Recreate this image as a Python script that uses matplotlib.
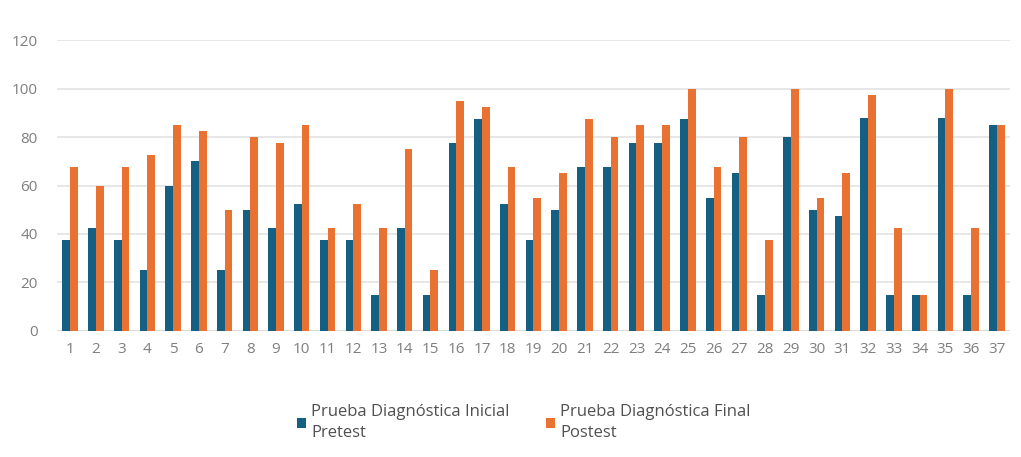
import numpy as np
import matplotlib.pyplot as plt

plt.rcParams['font.family'] = ['Open Sans', 'DejaVu Sans']

estudiantes = [str(i) for i in range(1, 38)]
pretest = [37.5, 42.5, 37.5, 25, 60, 70, 25, 50, 42.5, 52.5,
           37.5, 37.5, 15, 42.5, 15, 77.5, 87.5, 52.5, 37.5, 50,
           67.5, 67.5, 77.5, 77.5, 87.5, 55, 65, 15, 80, 50,
           47.5, 88, 15, 15, 88, 15, 85]
postest = [67.5, 60, 67.5, 72.5, 85, 82.5, 50, 80, 77.5, 85,
           42.5, 52.5, 42.5, 75, 25, 95, 92.5, 67.5, 55, 65,
           87.5, 80, 85, 85, 100, 67.5, 80, 37.5, 100, 55,
           65, 97.5, 42.5, 15, 100, 42.5, 85]

x = np.arange(len(estudiantes))
w = 0.3

fig = plt.figure(figsize=(10.21, 4.57), dpi=100)
ax = fig.add_axes([0.056, 0.276, 0.933, 0.636])

ax.bar(x - w / 2, pretest, w, color='#156082',
       label='Prueba Diagnóstica Inicial\nPretest', zorder=3)
ax.bar(x + w / 2, postest, w, color='#E97132',
       label='Prueba Diagnóstica Final\nPostest', zorder=3)

ax.set_ylim(0, 120)
ax.set_yticks(range(0, 121, 20))
ax.set_xlim(-0.5, len(estudiantes) - 0.5)
ax.set_xticks(x)
ax.set_xticklabels(estudiantes)
ax.grid(axis='y', color='#e3e3e3', linewidth=1.2, zorder=0)
for s in ax.spines.values():
    s.set_visible(False)
ax.axhline(0, color='#d9d9d9', linewidth=1.2, zorder=2)
ax.tick_params(axis='both', length=0, colors='#7f7f7f', labelsize=11)
ax.tick_params(axis='y', pad=14)
ax.tick_params(axis='x', pad=8)

leg = ax.legend(loc='upper center', bbox_to_anchor=(0.49, -0.2), ncol=2,
                frameon=False, fontsize=12, labelcolor='#505050',
                handlelength=0.55, handleheight=0.55, handletextpad=0.3,
                columnspacing=2.2)
for t in leg.get_texts():
    t.set_linespacing(1.45)

fig.savefig('out.png', dpi=100)
